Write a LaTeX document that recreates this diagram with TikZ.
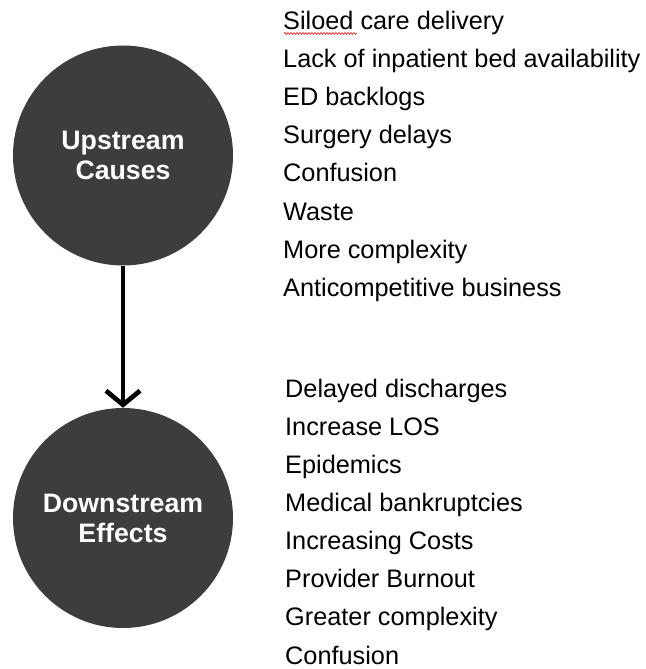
\documentclass[tikz,border=0pt]{standalone}
\usepackage{fontspec}
\setmainfont{Liberation Sans}
\usetikzlibrary{arrows.meta,decorations.pathmorphing}
\definecolor{discfill}{RGB}{61,61,61}
\definecolor{squiggle}{RGB}{214,64,64}
\begin{document}
\begin{tikzpicture}[x=1pt,y=-1pt,
  disc/.style={circle, fill=discfill, minimum size=220pt, inner sep=0pt,
    text=white, align=center, font=\fontsize{26.7}{30}\selectfont\bfseries},
  item/.style={anchor=base west, inner sep=0pt, font=\fontsize{25.3}{30}\selectfont},
  flow/.style={line width=4.7pt, -{Straight Barb[length=14pt,width=34pt]}}]
\useasboundingbox (0,0) rectangle (645,669);

% the two stages
\node[disc] (up) at (123,155.5) {Upstream\\Causes};
\node[disc] (down) at (123,518) {Downstream\\Effects};
\draw[flow] (up) -- (down);

% causes
\foreach \t [count=\i from 0] in {Siloed care delivery,
    Lack of inpatient bed availability, ED backlogs, Surgery delays,
    Confusion, Waste, More complexity, Anticompetitive business}
  \node[item] (c\i) at (283, 29.5+38.1*\i) {\t};

% effects
\foreach \t [count=\i from 0] in {Delayed discharges, Increase LOS,
    Epidemics, Medical bankruptcies, Increasing Costs, Provider Burnout,
    Greater complexity, Confusion}
  \node[item] (e\i) at (285, 397.3+38.1*\i) {\t};

% spell-check underline
\draw[squiggle, line width=0.8pt, decorate,
  decoration={snake, amplitude=0.9pt, segment length=3pt}]
  ([xshift=1pt,yshift=-4pt]c0.base west) -- ++(73,0);
\end{tikzpicture}
\end{document}
